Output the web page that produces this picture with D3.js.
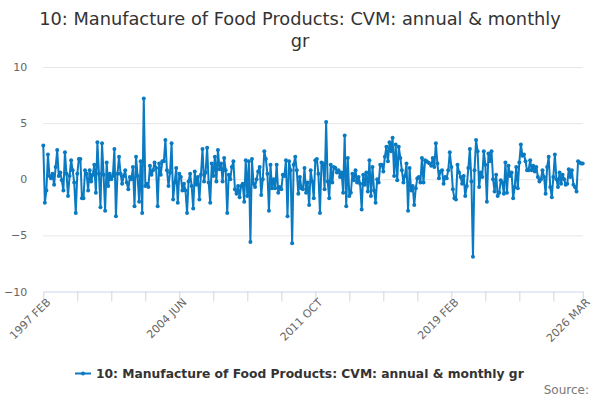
<!DOCTYPE html>
<html>
<head>
<meta charset="utf-8">
<script src="https://cdn.jsdelivr.net/npm/d3@7"></script>
<style>
  body { margin: 0; background: #fff; }
  text { font-family: "DejaVu Sans", sans-serif; }
</style>
</head>
<body id="body">
<script>
// monthly values, 1997 FEB .. 2026 MAR
const values = [
  3.0,-2.1,-1.0,2.2,0.3,0.1,0.5,-0.5,1.1,2.6,
  0.3,0.6,-0.1,-1.0,2.4,0.5,-1.5,0.3,1.7,0.8,
  -0.3,-3.0,0.5,1.8,1.8,-1.7,-1.7,0.8,0.5,-1.0,
  0.8,-0.2,0.4,1.3,-1.2,3.3,0.5,-2.5,3.2,0.4,
  -2.8,1.5,-0.6,0.5,0.0,0.3,2.7,-3.3,0.5,2.0,
  0.5,-0.4,0.3,0.8,-0.3,-0.9,0.2,
  0.0,1.1,-2.4,2.0,0.3,-2.0,1.6,-3.0,7.2,-0.6,
  -0.4,-0.7,1.2,0.4,0.8,1.5,1.0,-2.4,1.4,0.4,
  1.6,1.6,3.5,0.8,-0.6,0.6,3.2,-1.8,-0.3,1.0,
  -2.1,0.5,0.2,-1.0,-0.4,-1.0,-3.0,-0.2,0.5,-0.6,
  -2.6,0.7,-0.5,0.2,-1.8,0.4,2.7,-0.2,0.6,2.8,
  -0.3,-2.1,1.4,0.3,2.0,-0.2,2.6,
  0.9,1.4,-0.2,1.9,0.8,-3.0,0.4,0.0,1.1,1.6,
  -0.9,-1.3,-0.6,-1.6,-0.6,-0.4,-2.0,1.7,-1.5,1.6,
  -5.6,1.8,-0.4,-0.7,0.0,0.7,1.1,-1.4,0.0,2.5,
  1.8,0.5,-2.8,1.3,-0.8,0.0,-0.8,1.3,-1.2,-0.7,
  -0.9,0.4,0.3,1.7,-3.3,1.6,0.8,-5.7,1.3,2.0,
  0.8,-1.3,0.2,-0.8,-0.9,1.0,-1.2,-0.3,-2.3,
  0.8,-0.2,-1.7,1.7,1.8,0.5,-3.0,1.5,1.4,-0.9,
  5.1,-0.2,-1.7,1.3,-0.3,1.1,1.0,0.6,0.8,0.2,
  0.6,-1.2,3.9,-2.4,1.9,-1.5,-1.2,0.5,-0.1,0.8,
  -0.3,0.2,-0.4,-2.7,0.4,-0.5,0.6,-1.1,1.7,-1.5,
  1.1,-1.0,-2.1,0.0,-0.3,1.3,1.3,0.7,2.0,2.9,
  1.6,3.3,2.5,3.7,0.3,3.1,-0.1,2.9,
  1.9,0.8,-0.3,0.3,1.4,-2.8,1.0,-1.0,-0.6,-2.3,
  -0.8,0.1,0.2,-0.3,1.9,-0.3,1.7,1.6,1.5,1.4,
  1.2,1.9,1.1,3.2,1.4,0.1,0.7,0.8,-0.4,0.2,
  0.1,0.8,2.4,1.1,-0.9,-1.7,-1.8,1.3,0.6,0.2,
  -0.4,0.3,-1.5,-0.6,1.0,2.7,-0.2,-6.9,0.8,3.5,
  2.5,-0.7,0.6,0.2,2.5,1.3,-2.0,2.3,
  1.6,2.5,0.0,-1.1,0.4,-1.5,-1.2,-0.1,-0.3,-1.3,
  1.5,-1.2,1.2,0.3,0.6,-1.7,-0.7,1.1,-0.8,1.5,
  3.1,2.1,2.2,1.6,0.8,0.8,1.7,0.8,1.2,0.7,
  1.1,0.2,-0.2,0.0,0.8,0.2,-1.3,1.1,2.0,-0.7,
  -1.6,0.2,2.2,0.0,-0.7,0.6,-0.4,0.4,0.0,-0.5,
  -0.4,0.9,0.2,0.8,-0.5,-0.7,-1.1,1.6,1.5,1.4,
  1.4
];

const startMonth = new Date(1997, 1, 1);
const fmt = d3.timeFormat("%Y %b");
const categories = d3.range(values.length)
  .map(i => fmt(d3.timeMonth.offset(startMonth, i)).toUpperCase());

const xTickLabels = ["1997 FEB", "2004 JUN", "2011 OCT", "2019 FEB", "2026 MAR"];
const yTicks = [-10, -5, 0, 5, 10];
const titleLines = ["10: Manufacture of Food Products: CVM: annual & monthly", "gr"];
const seriesName = "10: Manufacture of Food Products: CVM: annual & monthly gr";

const width = 600, height = 400;
const color = "#0a7ac2";

const svg = d3.select("body").append("svg")
  .attr("width", width)
  .attr("height", height);

const x = d3.scalePoint()
  .domain(categories)
  .range([43.3, 582.7]);

const y = d3.scaleLinear()
  .domain([-10, 10])
  .range([291.5, 67]);

// title
svg.append("text")
  .attr("x", 300)
  .attr("text-anchor", "middle")
  .attr("fill", "#333")
  .style("font-size", "17.8px")
  .selectAll("tspan")
  .data(titleLines)
  .join("tspan")
  .attr("x", 300)
  .attr("y", (d, i) => 25 + i * 22)
  .text(d => d);

// horizontal grid + y labels
const yAxis = svg.append("g")
  .attr("transform", "translate(43.3,0)")
  .call(d3.axisLeft(y).tickValues(yTicks).tickSize(-(582.7 - 43.3)).tickPadding(16));
yAxis.select(".domain").remove();
yAxis.selectAll(".tick line")
  .attr("stroke", "#e6e6e6")
  .attr("display", d => d === -10 ? "none" : null);
yAxis.selectAll(".tick text")
  .attr("fill", "#666")
  .style("font-size", "11px")
  .style("font-family", "DejaVu Sans, sans-serif");

// x axis: a tick every 22 months, labels every 88 and at the end
const tickCats = categories.filter((d, i) => i % 22 === 0 || i === categories.length - 1);
const xAxis = svg.append("g")
  .attr("transform", "translate(0,291.5)")
  .call(d3.axisBottom(x).tickValues(tickCats).tickSize(10).tickSizeOuter(0)
    .tickFormat(d => xTickLabels.includes(d) ? d : ""));
xAxis.select(".domain").attr("stroke", "#ccd6eb");
xAxis.selectAll(".tick line").attr("stroke", "#ccd6eb");
xAxis.selectAll(".tick text")
  .attr("fill", "#666")
  .style("font-size", "11px")
  .style("font-family", "DejaVu Sans, sans-serif")
  .attr("text-anchor", "end")
  .attr("transform", "translate(2,6) rotate(-45)")
  .attr("dy", "0.7em")
  .attr("y", 0);

// series
const line = d3.line()
  .x((d, i) => x(categories[i]))
  .y(d => y(d));

svg.append("path")
  .datum(values)
  .attr("d", line)
  .attr("fill", "none")
  .attr("stroke", color)
  .attr("stroke-width", 2)
  .attr("stroke-linejoin", "round");

svg.append("g")
  .selectAll("circle")
  .data(values)
  .join("circle")
  .attr("cx", (d, i) => x(categories[i]))
  .attr("cy", d => y(d))
  .attr("r", 2)
  .attr("fill", color);

// legend
const legend = svg.append("g").attr("transform", "translate(75,373.5)");
legend.append("line")
  .attr("x1", 0).attr("x2", 16)
  .attr("stroke", color).attr("stroke-width", 2);
legend.append("circle")
  .attr("cx", 8).attr("r", 2).attr("fill", color);
legend.append("text")
  .attr("x", 21).attr("y", 4.5)
  .attr("fill", "#333")
  .style("font-size", "12.3px")
  .style("font-weight", "bold")
  .text(seriesName);

// credits
svg.append("text")
  .attr("x", 589).attr("y", 394)
  .attr("text-anchor", "end")
  .attr("fill", "#777")
  .style("font-size", "12px")
  .text("Source:");
</script>
</body>
</html>
